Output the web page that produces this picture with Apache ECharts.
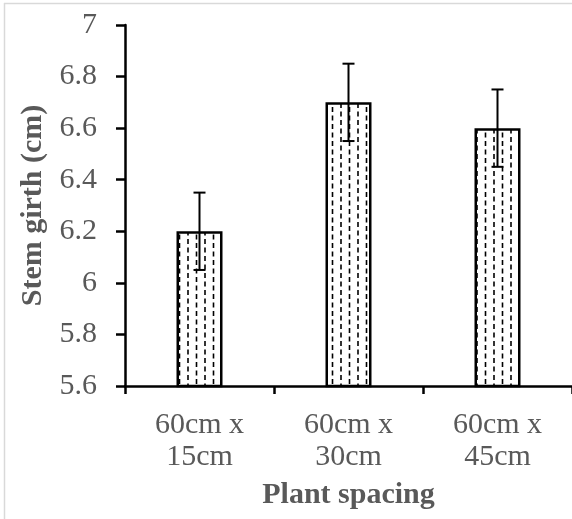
<!DOCTYPE html>
<html><head><meta charset="utf-8">
<script src="https://cdn.jsdelivr.net/npm/echarts@6/dist/echarts.min.js"></script>
<style>html,body{margin:0;padding:0;background:#fff}#c{width:572px;height:519px}</style>
</head><body><div id="c"></div>
<script>
const categories = ['60cm x\n15cm', '60cm x\n30cm', '60cm x\n45cm'];
const values = [6.2, 6.7, 6.6];
const errors = [0.15, 0.15, 0.15];
const yTicks = {min: 5.6, max: 7, interval: 0.2};

// dashed-line fill pattern
const tile = document.createElement('canvas');
tile.width = 17; tile.height = 17;
const g = tile.getContext('2d');
g.fillStyle = '#fff'; g.fillRect(0, 0, 17, 17);
g.strokeStyle = '#000'; g.lineWidth = 1.6;
function dash(x, y0, y1){ g.beginPath(); g.moveTo(x, y0); g.lineTo(x, y1); g.stroke(); }
dash(1, 1, 6); dash(1, 9.5, 14.5);
dash(9.5, 5, 10); dash(9.5, 13.5, 17); dash(9.5, -3.5, 1.5);

const chart = echarts.init(document.getElementById('c'));
const font = 'Liberation Serif';
chart.setOption({
  animation: false,
  graphic: [
    {type: 'line', shape: {x1: 4, y1: 3.5, x2: 572, y2: 3.5}, style: {stroke: '#d9d9d9', lineWidth: 1.5}},
    {type: 'line', shape: {x1: 4.5, y1: 3, x2: 4.5, y2: 519}, style: {stroke: '#d9d9d9', lineWidth: 1.5}}
  ],
  grid: {left: 125, top: 25, width: 450, height: 361},
  xAxis: {
    type: 'category', data: categories,
    axisLine: {lineStyle: {color: '#000', width: 2.5}},
    axisTick: {show: true, length: 8, lineStyle: {color: '#000', width: 2.5}},
    axisLabel: {color: '#595959', fontFamily: font, fontSize: 30, lineHeight: 32, margin: 23},
    name: 'Plant spacing', nameLocation: 'middle', nameGap: 94,
    nameTextStyle: {color: '#595959', fontFamily: font, fontSize: 30, fontWeight: 'bold'}
  },
  yAxis: {
    type: 'value', min: yTicks.min, max: yTicks.max, interval: yTicks.interval,
    axisLine: {show: true, lineStyle: {color: '#000', width: 2.5}},
    axisTick: {show: true, length: 9, lineStyle: {color: '#000', width: 2.5}},
    splitLine: {show: false},
    axisLabel: {color: '#595959', fontFamily: font, fontSize: 30, margin: 28,
      formatter: v => String(Math.round(v * 10) / 10)},
    name: 'Stem girth (cm)', nameLocation: 'middle', nameGap: 75,
    nameTextStyle: {color: '#595959', fontFamily: font, fontSize: 30, fontWeight: 'bold'}
  },
  series: [
    {
      type: 'bar', data: values, barWidth: 46,
      itemStyle: {color: {image: tile, repeat: 'repeat'}, borderColor: '#000', borderWidth: 2.5}
    },
    {
      type: 'custom', z: 10,
      data: values.map((v, i) => [i, v - errors[i], v + errors[i]]),
      renderItem: function (params, api) {
        const lo = api.coord([api.value(0), api.value(1)]);
        const hi = api.coord([api.value(0), api.value(2)]);
        const cw = 6;
        const st = {stroke: '#000', lineWidth: 2};
        return {type: 'group', children: [
          {type: 'line', shape: {x1: hi[0], y1: hi[1], x2: lo[0], y2: lo[1]}, style: st},
          {type: 'line', shape: {x1: hi[0] - cw, y1: hi[1], x2: hi[0] + cw, y2: hi[1]}, style: st},
          {type: 'line', shape: {x1: lo[0] - cw, y1: lo[1], x2: lo[0] + cw, y2: lo[1]}, style: st}
        ]};
      }
    }
  ]
});
</script></body></html>
